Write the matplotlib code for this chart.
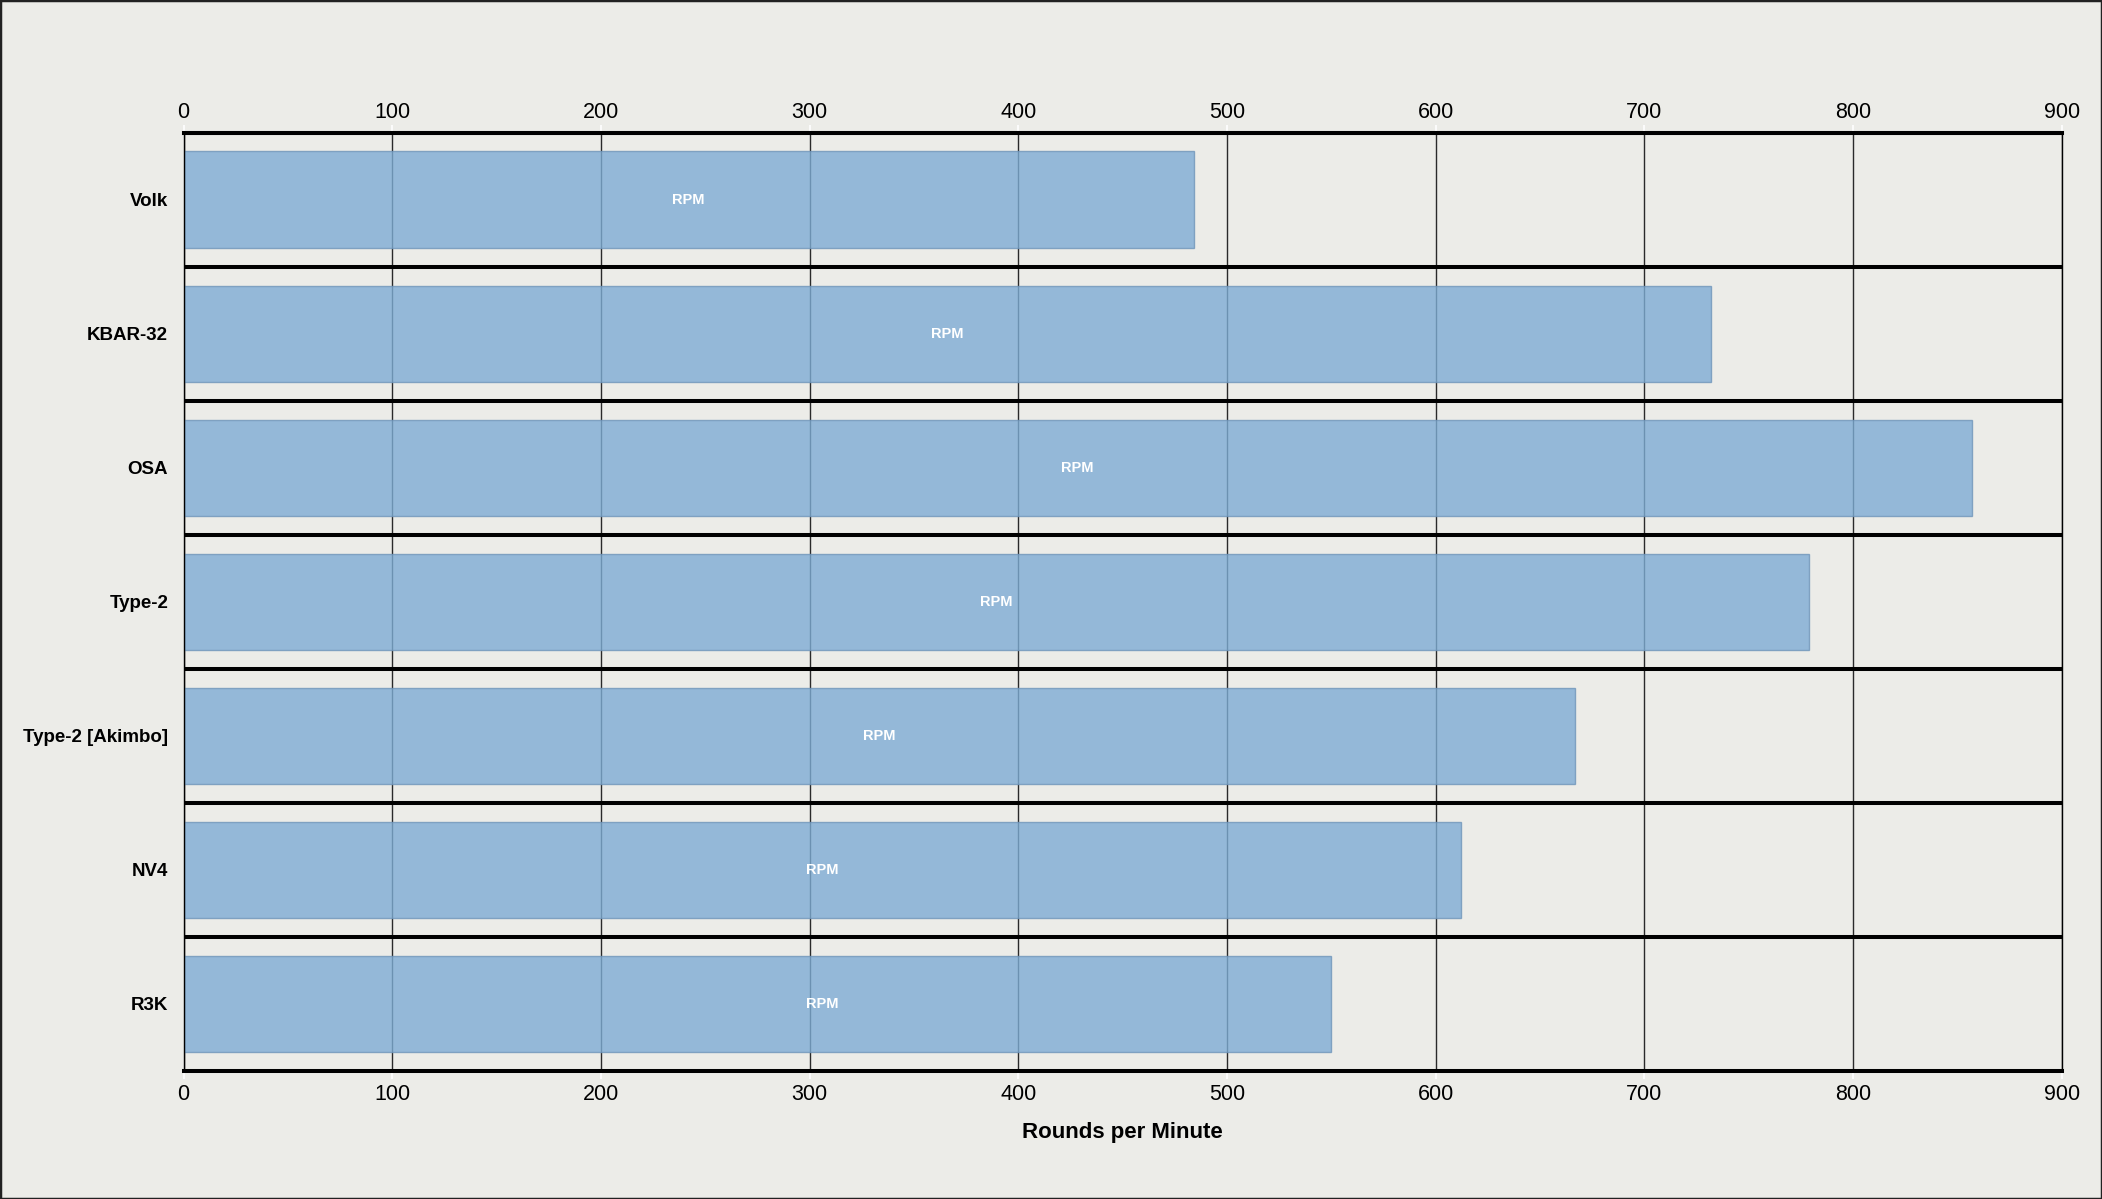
import matplotlib
matplotlib.use("Agg")
import matplotlib.pyplot as plt
from matplotlib.patches import Rectangle

weapons = ["Volk", "KBAR-32", "OSA", "Type-2", "Type-2 [Akimbo]", "NV4", "R3K"]
rpm = [484, 732, 857, 779, 667, 612, 550]
rpm_label_x = [242, 366, 428.5, 389.5, 333.5, 306, 306]
xticks = [0, 100, 200, 300, 400, 500, 600, 700, 800, 900]

plt.rcParams['font.family'] = ['Liberation Sans', 'DejaVu Sans']

bg = "#ECECE8"
fig = plt.figure(figsize=(21.02, 11.99), dpi=100, facecolor=bg)
ax = fig.add_axes([0.0873, 0.1068, 0.8935, 0.7825], facecolor=bg)

ypos = list(range(len(weapons)))
ax.set_axisbelow(True)
ax.grid(axis='x', color='#2A2A2A', linewidth=1.0, zorder=0)
ax.barh(ypos, rpm, height=0.72, color='#7EACD4', alpha=0.8,
        edgecolor='#6F95BA', linewidth=1.0, zorder=2)

for y, lx in zip(ypos, rpm_label_x):
    ax.text(lx, y, "RPM", color='white', fontsize=10.5, fontweight='bold',
            ha='center', va='center', zorder=4)

for y in [i + 0.5 for i in range(len(weapons) - 1)]:
    ax.axhline(y, color='black', linewidth=2.9, zorder=3)

ax.set_xlim(0, 900)
ax.set_ylim(len(weapons) - 0.5, -0.5)
ax.set_xticks(xticks)
ax.set_xticklabels([str(t) for t in xticks])
ax.set_yticks(ypos)
ax.set_yticklabels(weapons, fontweight='bold')

ax.tick_params(axis='x', which='both', top=False, bottom=True, labeltop=False,
               labelbottom=True, color='white', length=6, width=1.2,
               direction='out', labelsize=15.5, pad=3.5)
ax.tick_params(axis='y', length=0, labelsize=13.5, pad=11)

sec = ax.secondary_xaxis('top')
sec.set_xticks(xticks)
sec.set_xticklabels([str(t) for t in xticks])
sec.tick_params(axis='x', color='white', length=6, width=1.2,
                direction='out', labelsize=15.5, pad=1)
sec.spines['top'].set_linewidth(2.9)
sec.spines['top'].set_color('black')

for s in ['top', 'bottom']:
    ax.spines[s].set_linewidth(2.9)
    ax.spines[s].set_color('black')
for s in ['left', 'right']:
    ax.spines[s].set_linewidth(1.0)
    ax.spines[s].set_color('black')

ax.set_xlabel("Rounds per Minute", fontsize=16, fontweight='bold', labelpad=12)

fig.patches.append(Rectangle((0, 0), 1, 1, transform=fig.transFigure,
                             fill=False, edgecolor='#222222', linewidth=2.5))

fig.savefig("out.png", dpi=100, facecolor=bg)
